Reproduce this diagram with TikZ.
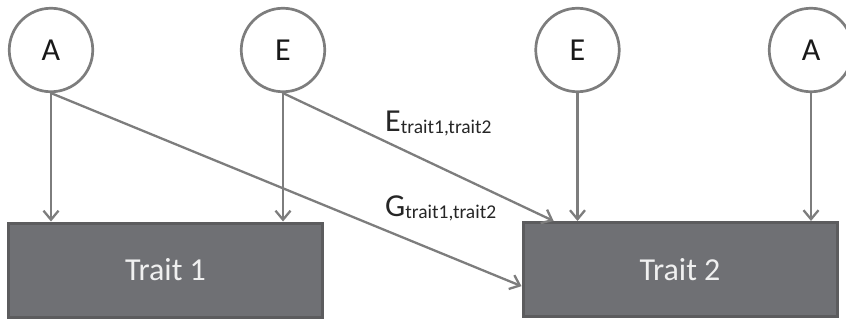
\documentclass[tikz,border=0pt]{standalone}
\usepackage{fontspec}
\setmainfont{Carlito}
\usetikzlibrary{arrows.meta}

\definecolor{linegray}{RGB}{125,125,125}
\definecolor{boxgray}{RGB}{111,112,116}
\definecolor{boxedge}{RGB}{92,92,94}

\tikzset{
    latent/.style={circle, draw=linegray, line width=2.7pt, fill=white,
        minimum size=83.5pt, inner sep=0pt, text=black!90,
        font=\fontsize{32}{36}\selectfont},
    trait/.style={rectangle, draw=boxedge, line width=3pt, fill=boxgray,
        minimum width=314pt, minimum height=94pt, inner sep=0pt,
        text=white!94!black, font=\fontsize{32}{36}\selectfont},
    effect/.style={-{Straight Barb[length=9pt,width=15pt]}, draw=linegray,
        line width=2.3pt},
    corr/.style={anchor=base west, inner sep=0pt, text=black!85,
        font=\fontsize{32}{36}\selectfont}
}

\newcommand{\sublabel}[1]{\raisebox{-2pt}{\fontsize{19.5}{22}\selectfont #1}}

\begin{document}
\begin{tikzpicture}[x=1pt, y=-1pt]
    \useasboundingbox (0, 0) rectangle (846, 321);

    % traits
    \node[trait] (trait1) at (165.5, 270) {Trait 1};
    \node[trait] (trait2) at (680, 269.5) {Trait 2};

    % latent factors
    \node[latent] (a1) at (51, 50) {A};
    \node[latent] (e1) at (283, 50) {E};
    \node[latent] (e2) at (577.5, 50) {E};
    \node[latent] (a2) at (811, 50) {A};

    % direct paths
    \draw[effect] (a1.south) -- (a1.south |- trait1.north);
    \draw[effect] (e1.south) -- (e1.south |- trait1.north);
    \draw[effect] (e2.south) -- (e2.south |- trait2.north);
    \draw[effect] (a2.south) -- (a2.south |- trait2.north);

    % cross paths
    \draw[effect] (e1.south) -- (trait2.159);
    \draw[effect] (a1.south) -- (trait2.186);

    % path labels
    \node[corr] (elabel) at (385, 131) {E\sublabel{trait1,trait2}};
    \node[corr] (glabel) at (385, 216) {G\sublabel{trait1,trait2}};
\end{tikzpicture}
\end{document}
